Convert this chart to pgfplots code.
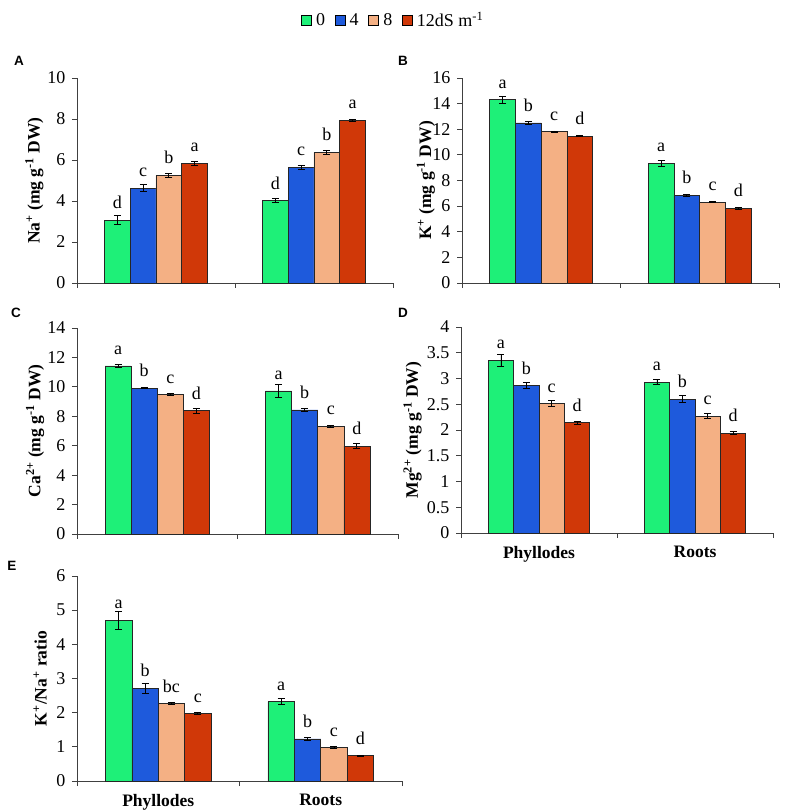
\documentclass[border=0pt]{standalone}
\usepackage{fontspec}
\setmainfont{Liberation Serif}
\newfontfamily\arialf{Liberation Sans}
\usepackage{pgfplots}
\usepackage{pgfplotstable}
\pgfplotsset{compat=1.18}
\definecolor{cg}{RGB}{30,240,120}
\definecolor{cb}{RGB}{30,90,220}
\definecolor{cp}{RGB}{244,176,132}
\definecolor{cr}{RGB}{208,56,8}

\pgfplotstableread{
x v0 e0 l0 v4 e4 l4 v8 e8 l8 v12 e12 l12
0 3.06 0.22 d 4.62 0.17 c 5.25 0.08 b 5.84 0.10 a
1 4.02 0.10 d 5.64 0.11 c 6.37 0.10 b 7.93 0.04 a
}\tabA
\pgfplotstableread{
x v0 e0 l0 v4 e4 l4 v8 e8 l8 v12 e12 l12
0 14.31 0.27 a 12.49 0.15 b 11.82 0.05 c 11.47 0.04 d
1 9.34 0.25 a 6.84 0.08 b 6.32 0.04 c 5.83 0.05 d
}\tabB
\pgfplotstableread{
x v0 e0 l0 v4 e4 l4 v8 e8 l8 v12 e12 l12
0 11.42 0.08 a 9.91 0.03 b 9.48 0.07 c 8.38 0.18 d
1 9.73 0.42 a 8.44 0.10 b 7.32 0.05 c 5.98 0.18 d
}\tabC
\pgfplotstableread{
x v0 e0 l0 v4 e4 l4 v8 e8 l8 v12 e12 l12
0 3.35 0.11 a 2.86 0.06 b 2.51 0.06 c 2.14 0.03 d
1 2.93 0.05 a 2.60 0.07 b 2.27 0.05 c 1.94 0.035 d
}\tabD
\pgfplotstableread{
x v0 e0 l0 v4 e4 l4 v8 e8 l8 v12 e12 l12
0 4.71 0.26 a 2.71 0.14 b 2.26 0.03 bc 1.97 0.03 c
1 2.32 0.09 a 1.23 0.05 b 0.98 0.02 c 0.74 0.02 d
}\tabE

\newcommand{\fs}{\fontsize{18}{21}\selectfont}
\newcommand{\fl}{\fontsize{17.5}{20}\selectfont}

\pgfplotsset{
 panel/.style={
  scale only axis, anchor=south west,
  xmin=-0.5, xmax=1.5, ymin=0,
  axis x line*=bottom, axis y line*=left,
  axis line style={black!75, line width=0.8pt},
  ybar, bar width=0.1625,
  xtick={-0.5,0.5,1.5}, xticklabels={},
  tick align=outside, major tick length=5pt,
  tick style={black!75, line width=0.8pt},
  /pgf/number format/assume math mode=true,
  tick label style={font=\fs},
  yticklabel style={xshift=-3pt},
  ylabel style={font=\bfseries\fl, anchor=center},
  nodes near coords, point meta=explicit symbolic,
  every node near coord/.append style={font=\fs, inner sep=0pt, yshift=11pt, text=black},
  error bars/y dir=both, error bars/y explicit,
  error bars/error bar style={black, line width=0.8pt},
  error bars/error mark options={rotate=90, mark size=3.5pt, black, line width=0.8pt},
  clip=false,
 },
 catlabels/.style={
  extra x ticks={0,1},
  extra x tick labels={\textbf{Phyllodes},\textbf{Roots}},
  extra x tick style={major tick length=0pt, tick label style={font=\bfseries\fl, yshift=-10pt}},
 },
 s0/.style={fill=cg, draw=black!85, line width=0.6pt, bar shift=-0.24375},
 s4/.style={fill=cb, draw=black!85, line width=0.6pt, bar shift=-0.08125},
 s8/.style={fill=cp, draw=black!85, line width=0.6pt, bar shift=0.08125},
 s12/.style={fill=cr, draw=black!85, line width=0.6pt, bar shift=0.24375},
}

\newcommand{\fourbars}[1]{%
  \addplot[s0] table[x=x, y=v0, y error=e0, meta=l0] {#1};
  \addplot[s4] table[x=x, y=v4, y error=e4, meta=l4] {#1};
  \addplot[s8] table[x=x, y=v8, y error=e8, meta=l8] {#1};
  \addplot[s12] table[x=x, y=v12, y error=e12, meta=l12] {#1};
}

\begin{document}
\begin{tikzpicture}
\path[use as bounding box] (0pt,0pt) rectangle (788pt,812pt);

% Panel A
\begin{axis}[panel, at={(77pt,529pt)}, width=316pt, height=205pt,
  ymax=10, ytick={0,2,...,10},
  ylabel={Na\textsuperscript{+} (mg g\textsuperscript{-1} DW)},
  ylabel style={at={(axis description cs:-0.1345,0.5)}},
  legend style={at={(axis description cs:1.0,1.283)}, anchor=center, draw=none, fill=none,
    legend columns=4, font=\fontsize{18}{21}\selectfont, nodes={inner sep=1.5pt},
    /tikz/every odd column/.append style={column sep=3pt},
    /tikz/every even column/.append style={column sep=8pt}},
  legend image code/.code={\draw[#1,draw=black,line width=0.6pt] (0pt,-5pt) rectangle (10pt,5pt);},
]
\fourbars{\tabA}
\legend{0,4,8,12dS m\textsuperscript{-1}}
\end{axis}

% Panel B
\begin{axis}[panel, at={(462pt,529pt)}, width=317pt, height=205pt,
  ymax=16, ytick={0,2,...,16},
  ylabel={K\textsuperscript{+} (mg g\textsuperscript{-1} DW)},
  ylabel style={at={(axis description cs:-0.1136,0.5)}},
]
\fourbars{\tabB}
\end{axis}

% Panel C
\begin{axis}[panel, at={(77pt,278pt)}, width=321pt, height=206pt,
  ymax=14, ytick={0,2,...,14},
  ylabel={Ca\textsuperscript{2+} (mg g\textsuperscript{-1} DW)},
  ylabel style={at={(axis description cs:-0.1308,0.5)}},
]
\fourbars{\tabC}
\end{axis}

% Panel D
\begin{axis}[panel, catlabels, at={(461pt,279pt)}, width=312pt, height=206pt,
  ymax=4, ytick={0,0.5,...,4},
  ylabel={Mg\textsuperscript{2+} (mg g\textsuperscript{-1} DW)},
  ylabel style={at={(axis description cs:-0.1554,0.5)}},
]
\fourbars{\tabD}
\end{axis}

% Panel E
\begin{axis}[panel, catlabels, at={(77pt,31pt)}, width=325pt, height=205pt,
  ymax=6, ytick={0,1,...,6},
  ylabel={K\textsuperscript{+}/Na\textsuperscript{+} ratio},
  ylabel style={at={(axis description cs:-0.1138,0.5)}},
]
\fourbars{\tabE}
\end{axis}

\node[font=\arialf\bfseries\fontsize{13.5}{15}\selectfont] at (19pt,751pt) {A};
\node[font=\arialf\bfseries\fontsize{13.5}{15}\selectfont] at (403pt,751pt) {B};
\node[font=\arialf\bfseries\fontsize{13.5}{15}\selectfont] at (16pt,499pt) {C};
\node[font=\arialf\bfseries\fontsize{13.5}{15}\selectfont] at (403pt,499pt) {D};
\node[font=\arialf\bfseries\fontsize{13.5}{15}\selectfont] at (12pt,246pt) {E};
\end{tikzpicture}
\end{document}
